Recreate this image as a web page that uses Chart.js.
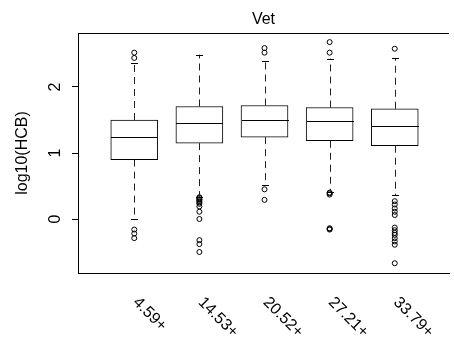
<!DOCTYPE html>
<html>
<head>
<meta charset="utf-8">
<script src="https://cdn.jsdelivr.net/npm/chart.js@4"></script>
<style>
  html, body { margin: 0; padding: 0; background: #fff; }
  canvas { display: block; }
</style>
</head>
<body>
<canvas id="vetChart" width="454" height="341"></canvas>
<script>
// groups along x, one box each
const groups = ['4.59+', '14.53+', '20.52+', '27.21+', '33.79+'];
const q1 = [0.90, 1.15, 1.24, 1.185, 1.11];
const medians = [1.235, 1.453, 1.503, 1.49, 1.41];
const q3 = [1.50, 1.705, 1.72, 1.69, 1.67];
const whiskerLow = [0.00, 0.34, 0.52, 0.41, 0.36];
const whiskerHigh = [2.36, 2.49, 2.40, 2.43, 2.44];
const outliers = [
  [2.52, 2.44, -0.16, -0.22, -0.29],
  [0.33, 0.32, 0.30, 0.29, 0.27, 0.25, 0.23, 0.19, 0.11, 0.00, -0.32, -0.38, -0.50],
  [2.59, 2.52, 0.45, 0.29],
  [2.68, 2.52, 0.40, 0.39, 0.37, -0.14, -0.15, -0.16],
  [2.58, 0.27, 0.22, 0.16, 0.11, 0.06, -0.13, -0.17, -0.21, -0.24, -0.29, -0.34, -0.39, -0.67]
];
const yTicks = [0, 1, 2];

Chart.defaults.font.family = "'Liberation Sans', Arial, sans-serif";
Chart.defaults.color = '#000';

const FONT = "16px 'Liberation Sans', Arial, sans-serif";

// medians, whiskers, frame top, title and slanted group labels
const boxParts = {
    id: 'boxParts',
    afterDatasetsDraw(chart) {
        const { ctx, chartArea, scales: { x, y } } = chart;
        const bars = chart.getDatasetMeta(0).data;
        ctx.save();
        ctx.strokeStyle = '#000';
        ctx.lineWidth = 1;

        groups.forEach(function (g, i) {
            const cx = Math.round(x.getPixelForValue(i + 1)) + 0.5;
            const half = bars[i].width / 2;

            // median
            const ym = Math.round(y.getPixelForValue(medians[i])) + 0.5;
            ctx.beginPath();
            ctx.moveTo(cx - half, ym);
            ctx.lineTo(cx + half, ym);
            ctx.stroke();

            // whiskers (dashed)
            ctx.strokeStyle = '#222';
            ctx.setLineDash([7, 5]);
            ctx.beginPath();
            ctx.moveTo(cx, y.getPixelForValue(q3[i]));
            ctx.lineTo(cx, y.getPixelForValue(whiskerHigh[i]));
            ctx.moveTo(cx, y.getPixelForValue(q1[i]));
            ctx.lineTo(cx, y.getPixelForValue(whiskerLow[i]));
            ctx.stroke();
            ctx.setLineDash([]);
            ctx.strokeStyle = '#000';

            // caps
            [whiskerHigh[i], whiskerLow[i]].forEach(function (v) {
                const yy = Math.round(y.getPixelForValue(v)) + 0.5;
                ctx.beginPath();
                ctx.moveTo(cx - 3.5, yy);
                ctx.lineTo(cx + 3.5, yy);
                ctx.stroke();
            });
        });

        // top line of the frame
        const top = Math.round(chartArea.top) + 0.5;
        ctx.beginPath();
        ctx.moveTo(chartArea.left, top);
        ctx.lineTo(chartArea.right, top);
        ctx.stroke();

        // title, centred over the plot region
        ctx.fillStyle = '#000';
        ctx.font = FONT;
        ctx.textAlign = 'center';
        ctx.textBaseline = 'alphabetic';
        ctx.fillText('Vet', (chartArea.left + chartArea.right) / 2, 24);

        // group labels at -45 degrees
        ctx.textAlign = 'left';
        groups.forEach(function (g, i) {
            ctx.save();
            ctx.translate(x.getPixelForValue(i + 1) - 2, 303);
            ctx.rotate(Math.PI / 4);
            ctx.fillText(g, 0, 0);
            ctx.restore();
        });
        ctx.restore();
    }
};

const boxData = groups.map((g, i) => ({ x: i + 1, y: [q1[i], q3[i]] }));
const outlierData = [];
outliers.forEach(function (list, i) {
    list.forEach(v => outlierData.push({ x: i + 1, y: v }));
});

new Chart(document.getElementById('vetChart'), {
    type: 'bar',
    data: {
        datasets: [{
            data: boxData,
            backgroundColor: '#fff',
            borderColor: '#000',
            borderWidth: 1,
            borderSkipped: false,
            barThickness: 47
        }, {
            type: 'scatter',
            data: outlierData,
            pointStyle: 'circle',
            pointRadius: 2.5,
            pointBorderWidth: 1,
            pointBorderColor: '#000',
            pointBackgroundColor: 'rgba(0,0,0,0)'
        }]
    },
    options: {
        responsive: false,
        animation: false,
        devicePixelRatio: 1,
        layout: { padding: { top: 33, right: 0, left: 0, bottom: 0 } },
        plugins: {
            legend: { display: false },
            tooltip: { enabled: false },
            title: { display: false }
        },
        scales: {
            x: {
                type: 'linear',
                offset: false,
                min: 0.136,
                max: 5.833,
                grid: { display: false },
                ticks: { display: false },
                border: { display: true, color: '#000', width: 1 },
                afterFit: s => { s.height = 68; }
            },
            y: {
                min: -0.818,
                max: 2.818,
                afterBuildTicks: s => { s.ticks = yTicks.map(v => ({ value: v })); },
                ticks: {
                    font: { size: 16 },
                    color: '#000',
                    minRotation: 90,
                    maxRotation: 90,
                    crossAlign: 'center',
                    padding: 12,
                    callback: v => String(v)
                },
                grid: {
                    display: true,
                    drawOnChartArea: false,
                    drawTicks: true,
                    tickLength: 6,
                    color: '#000'
                },
                border: { display: true, color: '#000', width: 1 },
                title: {
                    display: true,
                    text: 'log10(HCB)',
                    font: { size: 16 },
                    color: '#000',
                    padding: { top: 13, bottom: 0 }
                },
                afterFit: s => { s.width = 78; }
            }
        }
    },
    plugins: [boxParts]
});
</script>
</body>
</html>
